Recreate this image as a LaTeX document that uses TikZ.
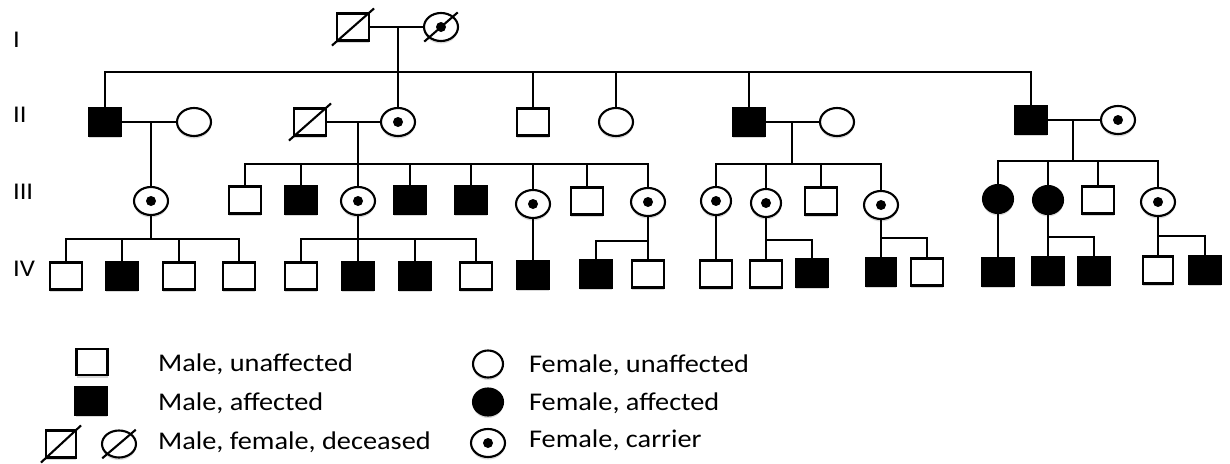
\documentclass[tikz,border=0pt]{standalone}
\usepackage{fontspec}
\setmainfont[FakeStretch=1.11]{Carlito}
\usetikzlibrary{shapes.geometric,positioning,calc,shadows}

\begin{document}
\begin{tikzpicture}[x=1pt,y=-1pt,line width=2.1pt,
  shadowed/.style={drop shadow={shadow xshift=0pt,shadow yshift=-2.5pt,opacity=.15,fill=black}},
  male/.style={draw,rectangle,fill=white,inner sep=0pt,minimum width=32pt,minimum height=27pt,shadowed},
  female/.style={draw,ellipse,fill=white,inner sep=0pt,minimum width=34pt,minimum height=28pt,shadowed},
  aff/.style={fill=black},
  carrier/.style={path picture={\fill[black] (path picture bounding box.center) circle (5pt);}},
  dead/.style={append after command={([shift={(-4,4)}]\tikzlastnode.south west) edge ([shift={(4,-4)}]\tikzlastnode.north east)}},
  gen/.style={font=\fontsize{24}{28}\selectfont,anchor=base west,inner sep=0pt},
  key/.style={font=\fontsize{25.5}{30}\selectfont,anchor=base west,inner sep=0pt}]
\useasboundingbox (0,0) rectangle (1230,463);

\node[gen] (gI) at (12,47) {I};
\node[gen] (gII) at (12,122) {II};
\node[gen] (gIII) at (12,199) {III};
\node[gen] (gIV) at (12,276) {IV};

% generation I
\node[male,dead] (i1) at (353,27) {};
\node[female,carrier,dead] (i2) at (441,27) {};

% generation II
\node[male,aff] (ii1) at (105,122) {};
\node[female] (ii2) at (194,122) {};
\node[male,dead] (ii3) at (310,122) {};
\node[female,carrier] (ii4) at (398,122) {};
\node[male] (ii5) at (533,122) {};
\node[female] (ii6) at (616,122) {};
\node[male,aff] (ii7) at (749,122) {};
\node[female] (ii8) at (837,122) {};
\node[male,aff] (ii9) at (1031,120) {};
\node[female,carrier] (ii10) at (1118,120) {};

% generation III
\node[female,carrier] (iii1) at (151,201) {};
\node[male] (iii2) at (245,200) {};
\node[male,aff] (iii3) at (301,200) {};
\node[female,carrier] (iii4) at (358,201) {};
\node[male,aff] (iii5) at (410,200) {};
\node[male,aff] (iii6) at (471,200) {};
\node[female,carrier] (iii7) at (533,204) {};
\node[male] (iii8) at (587,201) {};
\node[female,carrier] (iii9) at (648,202) {};
\node[female,carrier,minimum width=30pt] (iii10) at (716,201) {};
\node[female,carrier,minimum width=30pt] (iii11) at (766,203) {};
\node[male] (iii12) at (821,201) {};
\node[female,carrier] (iii13) at (881,205) {};
\node[female,aff,minimum width=30pt] (iii14) at (998,199) {};
\node[female,aff,minimum width=30pt] (iii15) at (1048,200) {};
\node[male] (iii16) at (1098,200) {};
\node[female,carrier] (iii17) at (1158,202) {};

% generation IV
\node[male] (iv1) at (66,276) {};
\node[male,aff] (iv2) at (122,276) {};
\node[male] (iv3) at (179,276) {};
\node[male] (iv4) at (239,276) {};
\node[male] (iv5) at (301,276) {};
\node[male,aff] (iv6) at (358,276) {};
\node[male,aff] (iv7) at (415,276) {};
\node[male] (iv8) at (476,276) {};
\node[male,aff] (iv9) at (533,275) {};
\node[male,aff] (iv10) at (596,274) {};
\node[male] (iv11) at (648,274) {};
\node[male] (iv12) at (716,274) {};
\node[male] (iv13) at (766,274) {};
\node[male,aff] (iv14) at (812,273) {};
\node[male,aff,minimum width=30pt] (iv15) at (881,272) {};
\node[male] (iv16) at (927,272) {};
\node[male,aff] (iv17) at (998,272) {};
\node[male,aff] (iv18) at (1048,271) {};
\node[male,aff] (iv19) at (1094,271) {};
\node[male,minimum width=30pt] (iv20) at (1158,270) {};
\node[male,aff] (iv21) at (1205,270) {};

\coordinate (d1) at (398,27);  \coordinate (s1) at (398,72);
\coordinate (d2) at (151,122);
\coordinate (d3) at (358,122); \coordinate (s3) at (358,164);
\coordinate (d4) at (792,122); \coordinate (s4) at (792,164);
\coordinate (d5) at (1073,120); \coordinate (s5) at (1073,161);
\coordinate (s6) at (151,239);
\coordinate (s7) at (358,239);
\coordinate (s8) at (648,241);
\coordinate (s9) at (766,240);
\coordinate (s10) at (881,238);
\coordinate (s11) at (1048,237);
\coordinate (s12) at (1158,236);

\draw (i1) -- (i2);
\draw (d1) -- (s1);
\draw (ii1) |- (s1) -| (ii9);
\foreach \n in {4,...,7} \draw (ii\n) -- (ii\n |- s1);

\draw (ii1) -- (ii2);
\draw (d2) -- (iii1);
\draw (ii3) -- (ii4);
\draw (d3) -- (s3);
\draw (iii2) |- (s3) -| (iii9);
\foreach \n in {3,...,8} \draw (iii\n) -- (iii\n |- s3);
\draw (ii7) -- (ii8);
\draw (d4) -- (s4);
\draw (iii10) |- (s4) -| (iii13);
\foreach \n in {11,12} \draw (iii\n) -- (iii\n |- s4);
\draw (ii9) -- (ii10);
\draw (d5) -- (s5);
\draw (iii14) |- (s5) -| (iii17);
\foreach \n in {15,16} \draw (iii\n) -- (iii\n |- s5);

\draw (iii1) -- (s6);
\draw (iv1) |- (s6) -| (iv4);
\foreach \n in {2,3} \draw (iv\n) -- (iv\n |- s6);
\draw (iii4) -- (s7);
\draw (iv5) |- (s7) -| (iv8);
\foreach \n in {6,7} \draw (iv\n) -- (iv\n |- s7);
\draw (iii7) -- (iv9);
\draw (iii9) -- (iv11);
\draw (iv10) |- (s8);
\draw (iii10) -- (iv12);
\draw (iii11) -- (iv13);
\draw (iv14) |- (s9);
\draw (iii13) -- (iv15);
\draw (iv16) |- (s10);
\draw (iii14) -- (iv17);
\draw (iii15) -- (iv18);
\draw (iv19) |- (s11);
\draw (iii17) -- (iv20);
\draw (iv21) |- (s12);

% key
\node[male,minimum width=31pt,minimum height=26pt] (k1) at (92,362) {};
\node[male,aff,minimum width=31pt] (k2) at (91,401) {};
\node[male,dead,minimum width=30pt] (k3) at (61,444) {};
\node[female,dead,minimum height=27pt] (k4) at (119,444) {};
\node[female,minimum width=30pt,minimum height=27pt] (k5) at (488,364) {};
\node[female,aff,minimum width=30pt,minimum height=27pt] (k6) at (488,402) {};
\node[female,carrier] (k7) at (488,443) {};
\node[key] (t1) at (157,371) {Male, unaffected};
\node[key] (t2) at (157,410) {Male, affected};
\node[key] (t3) at (157,449) {Male, female, deceased};
\node[key] (t4) at (528,372) {Female, unaffected};
\node[key] (t5) at (528,410) {Female, affected};
\node[key] (t6) at (528,447) {Female, carrier};
\end{tikzpicture}
\end{document}
